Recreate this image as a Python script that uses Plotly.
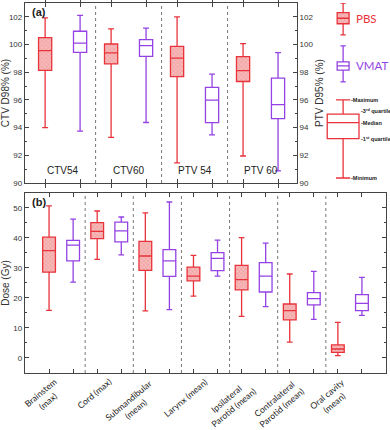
import plotly.graph_objects as go

# ---------------- data ----------------
# Panel (a): target coverage
a_groups = ["CTV54", "CTV60", "PTV 54", "PTV 60"]
a_pbs_min = [94.0, 93.3, 91.45, 91.95]
a_pbs_q1 = [98.13, 98.6, 97.69, 97.33]
a_pbs_med = [99.56, 99.4, 99.02, 98.12]
a_pbs_q3 = [100.5, 100.04, 99.87, 99.13]
a_pbs_max = [101.93, 101.13, 102.0, 100.07]
a_vmat_min = [93.75, 94.37, 93.47, 90.87]
a_vmat_q1 = [99.44, 99.15, 94.36, 94.65]
a_vmat_med = [100.1, 99.92, 95.98, 95.66]
a_vmat_q3 = [100.96, 100.35, 96.9, 97.57]
a_vmat_max = [102.1, 101.18, 97.86, 99.42]

# Panel (b): OAR doses (Gy)
b_groups = ["Brainstem<br>(max)", "Cord (max)", "Submandibular<br>(mean)", "Larynx (mean)",
            "Ipsilateral<br>Parotid (mean)", "Contralateral<br>Parotid (mean)", "Oral cavity<br>(mean)"]
b_pbs_min = [15.9, 32.9, 15.7, 20.6, 13.9, 5.3, 0.8]
b_pbs_q1 = [28.6, 39.8, 29.2, 25.7, 22.7, 12.7, 1.9]
b_pbs_med = [35.8, 42.2, 34.0, 27.3, 26.1, 15.8, 3.0]
b_pbs_q3 = [40.3, 45.1, 38.9, 30.3, 30.9, 18.0, 4.4]
b_pbs_max = [50.7, 49.0, 48.4, 34.2, 40.1, 28.0, 11.9]
b_vmat_min = [25.3, 34.4, 16.1, 27.3, 17.1, 12.9, 14.2]
b_vmat_q1 = [32.4, 38.7, 27.2, 29.1, 22.0, 17.7, 15.8]
b_vmat_med = [37.6, 42.4, 32.4, 33.2, 27.3, 19.8, 18.2]
b_vmat_q3 = [39.2, 45.3, 36.1, 35.1, 31.8, 21.8, 21.1]
b_vmat_max = [46.3, 47.0, 52.0, 39.3, 38.3, 28.9, 26.9]

# Legend examples (drawn on the legend axes, PTV D95% scale)
leg_pbs = dict(lo=100.7, q1=101.5, med=101.9, q3=102.3, hi=103.0)
leg_vmat = dict(lo=97.3, q1=98.15, med=98.46, q3=98.75, hi=99.9)
leg_sch = dict(lo=90.36, q1=93.2, med=94.36, q3=94.97, hi=96.0)

RED = "#e8333b"
PURPLE = "#9442e3"
FILLBG = "#f6b9b9"
AX = "#444444"
TXT = "#333333"
FONT = "Arial, Liberation Sans, sans-serif"
LFONT = "Lato, sans-serif"

fig = go.Figure()


def add_group(xs, q1, med, q3, lo, hi, width, color, xa, ya, pattern, name):
    if pattern:
        fig.add_trace(go.Bar(
            x=xs, y=[b - a for a, b in zip(q1, q3)], base=q1, width=width,
            marker=dict(color=FILLBG, line=dict(width=0),
                        pattern=dict(shape="x", fgcolor="#ee7777", bgcolor=FILLBG, size=3, solidity=0.35)),
            xaxis=xa, yaxis=ya, showlegend=False, hoverinfo="skip", name=name))
    fig.add_trace(go.Box(
        x=xs, q1=q1, median=med, q3=q3, lowerfence=lo, upperfence=hi,
        width=width, whiskerwidth=0.45, boxpoints=False,
        fillcolor="rgba(0,0,0,0)" if pattern else "white",
        line=dict(color=color, width=1.3),
        xaxis=xa, yaxis=ya, showlegend=False, name=name))


# Panel (a)
a_pbs_x = [i - 0.265 for i in range(len(a_groups))]
a_vmat_x = [i + 0.265 for i in range(len(a_groups))]
add_group(a_pbs_x, a_pbs_q1, a_pbs_med, a_pbs_q3, a_pbs_min, a_pbs_max, 0.2, RED, "x", "y", True, "PBS")
add_group(a_vmat_x, a_vmat_q1, a_vmat_med, a_vmat_q3, a_vmat_min, a_vmat_max, 0.2, PURPLE, "x", "y", False, "VMAT")

# Panel (b)
b_pbs_x = [2 * i for i in range(len(b_groups))]
b_vmat_x = [2 * i + 1 for i in range(len(b_groups))]
add_group(b_pbs_x, b_pbs_q1, b_pbs_med, b_pbs_q3, b_pbs_min, b_pbs_max, 0.53, RED, "x2", "y3", True, "PBS")
add_group(b_vmat_x, b_vmat_q1, b_vmat_med, b_vmat_q3, b_vmat_min, b_vmat_max, 0.53, PURPLE, "x2", "y3", False, "VMAT")

# Legend boxes
for d, xc, w, col, pat in [(leg_pbs, 0.46, 0.15, RED, True), (leg_vmat, 0.46, 0.15, PURPLE, False),
                           (leg_sch, 0.46, 0.40, RED, False)]:
    add_group([xc], [d["q1"]], [d["med"]], [d["q3"]], [d["lo"]], [d["hi"]], w, col, "x3", "y4", pat, "leg")

# ---------------- layout ----------------
dom_a = [0.5135, 1.0]
dom_b = [0.0, 0.4865]
tickfont = dict(family=FONT, size=8, color=TXT)
common_x = dict(showline=True, linecolor=AX, linewidth=1.3, mirror="allticks", ticks="inside",
                ticklen=4, tickcolor=AX, showgrid=False, zeroline=False, showticklabels=False)
common_y = dict(showline=True, linecolor=AX, linewidth=1.3, ticks="inside", ticklen=4, tickcolor=AX,
                showgrid=False, zeroline=False, tickfont=tickfont, automargin=False)

fig.update_layout(
    width=390, height=430,
    margin=dict(l=25, r=4, t=3, b=57),
    paper_bgcolor="white", plot_bgcolor="white",
    barmode="overlay", boxmode="overlay", showlegend=False,
    xaxis=dict(domain=[0, 0.753], range=[-0.57, 3.55], anchor="y",
               tickvals=a_pbs_x + a_vmat_x, **common_x),
    yaxis=dict(domain=dom_a, range=[90, 103], anchor="x", dtick=2, mirror=False,
               minor=dict(dtick=1, ticks="inside", ticklen=2, tickcolor=AX),
               title=dict(text="CTV D98% (%)", font=dict(family=FONT, size=10, color=TXT), standoff=4),
               **common_y),
    yaxis2=dict(domain=dom_a, range=[90, 103], overlaying="y", side="right", anchor="x", dtick=2,
                minor=dict(dtick=1, ticks="inside", ticklen=2, tickcolor=AX),
                title=dict(text="PTV D95% (%)", font=dict(family=FONT, size=10, color=TXT), standoff=3),
                **common_y),
    xaxis2=dict(domain=[0, 1], range=[-1, 14], anchor="y3",
                tickvals=b_pbs_x + b_vmat_x, **common_x),
    yaxis3=dict(domain=dom_b, range=[-5, 55], anchor="x2", dtick=10, mirror="allticks",
                minor=dict(dtick=5, ticks="inside", ticklen=2, tickcolor=AX),
                title=dict(text="Dose (Gy)", font=dict(family=FONT, size=10, color=TXT), standoff=4),
                **common_y),
    xaxis3=dict(domain=[0.78, 1.0], range=[0, 1], anchor="y4", visible=False),
    yaxis4=dict(domain=dom_a, range=[90, 103], anchor="x3", visible=False),
)
# an invisible marker so the right-hand axis of panel (a) is drawn
fig.add_trace(go.Scatter(x=[a_pbs_x[0]], y=[a_pbs_med[0]], xaxis="x", yaxis="y2", mode="markers",
                         marker=dict(opacity=0), showlegend=False, hoverinfo="skip"))

# dividers
for i in range(len(a_groups) - 1):
    fig.add_shape(type="line", xref="x", yref="y domain", x0=i + 0.5, x1=i + 0.5, y0=0, y1=1,
                  line=dict(color="#777777", width=1, dash="dot"))
for i in range(len(b_groups) - 1):
    fig.add_shape(type="line", xref="x2", yref="y3 domain", x0=2 * i + 1.5, x1=2 * i + 1.5, y0=0, y1=1,
                  line=dict(color="#777777", width=1, dash="dot"))

# panel labels
fig.add_annotation(text="<b>(a)</b>", xref="x domain", yref="y domain", x=0.02, y=0.995,
                   xanchor="left", yanchor="top", showarrow=False, font=dict(family=FONT, size=11, color="#222"))
fig.add_annotation(text="<b>(b)</b>", xref="x2 domain", yref="y3 domain", x=0.015, y=0.995,
                   xanchor="left", yanchor="top", showarrow=False, font=dict(family=FONT, size=11, color="#222"))

# panel (a) category labels
for i, g in enumerate(a_groups):
    fig.add_annotation(text=g, xref="x", yref="y domain", x=i, y=0.03, yanchor="bottom",
                       showarrow=False, font=dict(family=FONT, size=10, color="#222"))

# panel (b) category labels
for i, g in enumerate(b_groups):
    fig.add_annotation(text=g, xref="x2", yref="y3 domain", x=2 * i + 0.5, y=-0.004,
                       xanchor="right", yanchor="top", textangle=-40, showarrow=False, align="center",
                       xshift=7, font=dict(family=LFONT, size=8.7, color="#222"))

# legend text
fig.add_annotation(text="PBS", xref="x3", yref="y4", x=0.6, y=leg_pbs["med"], xanchor="left",
                   showarrow=False, font=dict(family=LFONT, size=11.5, color=RED))
fig.add_annotation(text="VMAT", xref="x3", yref="y4", x=0.6, y=leg_vmat["med"], xanchor="left",
                   showarrow=False, font=dict(family=LFONT, size=11.5, color=PURPLE))
sch_font = dict(family=FONT, size=5.5, color="#222")
for txt, xx, yy in [("-Maximum", 0.53, leg_sch["hi"]), ("-3<sup>rd</sup> quartile", 0.66, leg_sch["q3"] + 0.2),
                    ("-Median", 0.66, leg_sch["med"]), ("-1<sup>st</sup> quartile", 0.66, leg_sch["q1"]),
                    ("-Minimum", 0.53, leg_sch["lo"])]:
    fig.add_annotation(text="<b>" + txt + "</b>", xref="x3", yref="y4", x=xx, y=yy, xanchor="left",
                       showarrow=False, font=sch_font)

fig.write_html("out.html")
